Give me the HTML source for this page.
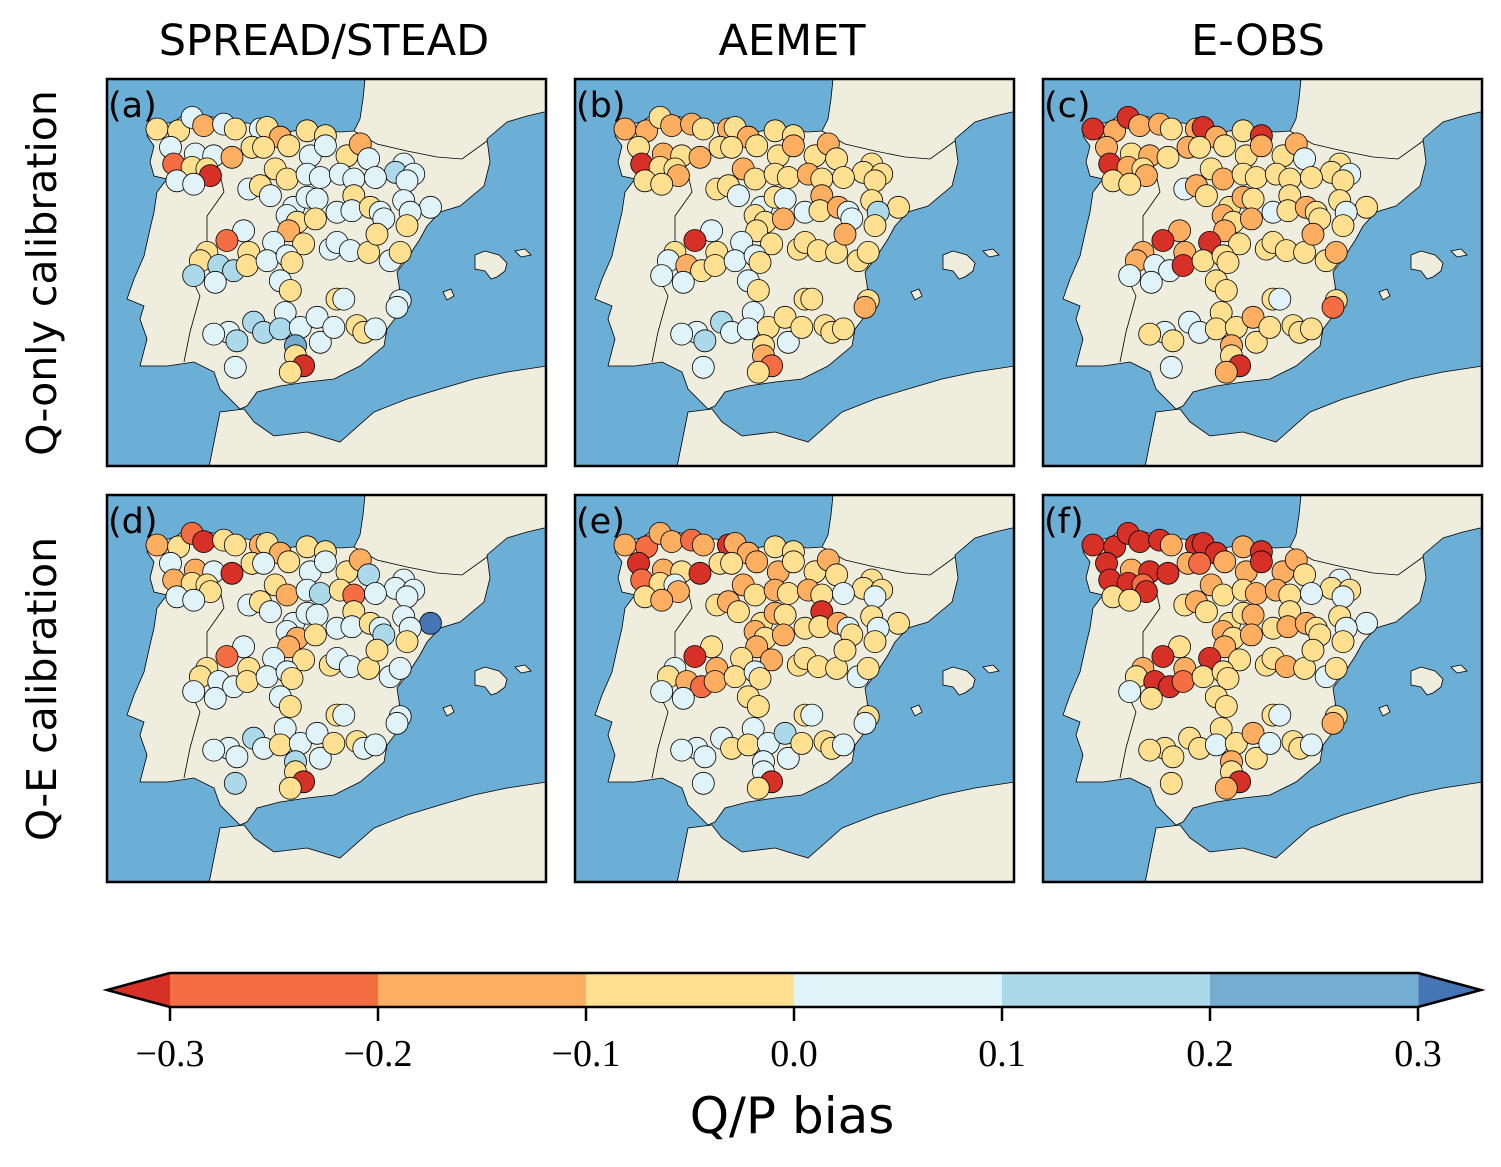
<!DOCTYPE html>
<html><head><meta charset="utf-8"><style>
html,body{margin:0;padding:0;background:#fff;}
svg{display:block;}
</style></head><body>
<svg id="fig" width="1501" height="1167" viewBox="0 0 1501 1167" xmlns="http://www.w3.org/2000/svg">
<defs>
<clipPath id="pclip"><rect x="0" y="0" width="439" height="387"/></clipPath>
</defs>
<g font-family="'DejaVu Sans','Liberation Sans',sans-serif" fill="#000">
<text x="324" y="55" font-size="43" text-anchor="middle">SPREAD/STEAD</text>
<text x="792" y="55" font-size="43" text-anchor="middle">AEMET</text>
<text x="1258" y="55" font-size="43" text-anchor="middle">E-OBS</text>
<text transform="translate(56,273) rotate(-90)" font-size="41" text-anchor="middle">Q-only calibration</text>
<text transform="translate(56,689) rotate(-90)" font-size="41" text-anchor="middle">Q-E calibration</text>
<text x="792" y="1133" font-size="50" text-anchor="middle">Q/P bias</text>
</g>
<g id="panels"></g>
<g id="cbar"></g>
</svg>
<script>
// station coordinates (lon, lat)
const stationLon = [-8.95,-8.15,-7.65,-7.22,-6.48,-6.05,-5.12,-4.87,-4.38,-3.39,-2.71,
-8.45,-7.53,-6.85,-6.17,-5.43,-5.0,-4.07,-8.33,-7.65,-7.1,-6.97,
-3.27,-2.71,-1.91,-1.42,-1.11,0.19,-0.12,0.56,
-8.21,-7.59,-5.55,-5.12,-4.75,-4.57,-4.13,-3.39,-2.9,-2.16,-1.66,-0.86,0.31,
-3.89,-3.39,-3.02,-1.66,0.19,1.18,
-4.13,-3.76,-3.08,-2.28,-1.73,-1.05,-0.68,-0.55,0.43,0.31,
-5.74,-6.36,-4.07,-3.52,-4.63,-2.53,-2.28,-1.79,-1.11,-0.8,-0.31,0.06,
-7.1,-7.34,-6.66,-6.11,-5.55,-5.61,-4.87,-4.13,-3.95,
-7.59,-6.79,-4.38,-4.01,-2.28,-2.03,0.06,-0.06,
-4.2,-5.37,-6.29,-6.85,-5.99,-5.0,-4.38,-3.64,-3.02,-2.9,-2.4,-1.54,-1.29,-0.86,
-3.82,-3.82,-3.52,-4.01,-6.05];
const stationLat = [43.51,43.46,43.82,43.6,43.64,43.51,43.51,43.55,43.29,43.46,43.33,
43.02,42.84,42.79,42.75,43.02,43.02,43.06,42.57,42.48,42.44,42.26,
42.79,43.06,42.79,43.11,42.71,42.57,42.35,42.3,
42.12,42.03,41.9,41.99,41.72,42.44,42.17,42.3,42.21,42.3,42.17,42.21,42.12,
41.41,41.68,41.63,41.72,41.59,41.41,
41.19,41.01,41.1,41.28,41.32,41.41,41.28,41.1,41.28,40.92,
40.78,40.52,40.78,40.43,40.47,40.29,40.47,40.25,40.2,40.69,39.98,40.2,
40.2,39.98,39.85,39.71,40.2,39.85,39.98,40.11,39.93,
39.58,39.4,39.44,39.18,38.95,38.95,38.91,38.73,
38.59,38.33,38.06,38.01,37.83,38.06,38.15,38.19,38.46,37.79,38.19,38.24,38.06,38.15,
37.7,37.43,37.16,36.99,37.12];
const biasA = [-.05,-.05,.05,-.15,.05,-.05,.05,-.05,-.15,-.05,-.05,
.05,.05,.05,-.15,-.05,-.05,-.05,-.25,-.05,-.05,-.35,
.05,.05,-.05,-.15,.05,.05,.15,.05,
.05,.05,.05,-.05,.05,-.05,-.05,.05,.05,.05,.05,.05,.05,
.05,.05,.05,-.05,.05,.05,
.05,-.05,-.05,.05,.05,-.05,.05,.05,.05,-.05,
.05,-.25,-.15,-.05,.05,.05,.05,.05,-.05,-.05,.05,-.05,
-.05,-.05,.15,.15,-.05,-.05,.05,.05,-.05,
.15,.05,.05,-.05,-.05,.05,.05,.05,
.05,.15,.05,.05,.15,.15,.15,.05,.05,.05,.05,-.05,-.05,.05,
.25,-.05,-.35,-.05,.05];
const biasB = [-.15,-.15,-.05,-.15,-.15,-.05,-.15,-.05,-.15,-.05,-.05,
-.05,-.15,-.05,-.15,-.05,-.05,-.05,-.35,-.05,-.05,-.15,
-.05,-.15,-.05,-.15,-.05,-.05,-.05,-.05,
-.05,-.05,-.05,-.05,.05,-.15,-.05,-.05,-.05,-.15,-.05,-.05,-.05,
.05,-.05,.05,-.15,-.05,-.05,
-.05,-.05,-.15,.05,-.05,-.15,.05,.05,.15,-.05,
.05,-.35,-.05,-.05,.05,-.05,-.05,-.05,-.05,-.15,-.05,-.05,
-.05,.05,-.15,-.05,-.05,-.05,.05,.05,-.05,
.05,.05,.05,-.05,-.05,-.05,-.05,-.15,
.05,.15,.05,.05,.15,.05,.05,-.05,-.05,.05,-.05,-.05,-.05,-.05,
-.05,-.15,-.25,-.05,.05];
const biasC = [-.35,-.15,-.35,-.15,-.15,-.05,-.15,-.35,-.15,-.05,-.35,
-.15,-.05,-.15,-.05,-.15,-.05,-.05,-.35,-.15,-.05,-.15,
-.05,-.15,-.05,-.15,.05,-.05,-.05,.05,
-.05,-.05,.05,-.15,-.05,-.05,-.15,-.05,-.05,-.05,-.05,-.05,-.05,
-.05,-.15,-.05,-.05,-.05,-.05,
-.15,-.05,-.15,.05,-.05,-.15,-.05,-.05,.05,-.05,
-.15,-.35,-.15,-.05,-.35,-.05,-.05,-.05,-.05,-.15,-.05,-.15,
-.15,-.15,.05,.05,-.15,-.35,-.05,-.05,-.05,
.05,.05,-.05,-.05,-.05,.05,-.05,-.25,
-.05,.05,.05,-.05,-.05,.05,-.05,-.05,-.15,-.05,-.05,-.05,-.05,-.05,
-.15,-.05,-.35,-.15,.05];
const biasD = [-.15,-.05,-.25,-.35,-.05,-.05,-.15,-.05,-.15,-.05,-.05,
.05,-.15,.05,-.35,-.05,.05,-.05,-.15,-.05,-.05,-.05,
.05,.05,-.05,-.15,.15,.05,.05,.05,
.05,.05,.05,-.05,.05,-.05,-.15,.05,.15,-.05,-.25,.05,.05,
.05,.05,.05,-.05,.05,.35,
.05,-.15,-.05,.05,.05,-.05,.05,.15,.05,-.05,
.05,-.25,-.15,-.05,.05,-.05,.05,.05,-.05,-.05,.05,.05,
-.05,-.05,.05,.05,-.05,-.05,.05,.05,-.05,
.05,.05,.05,-.05,-.05,.05,.05,.05,
.05,.15,.05,.05,.05,.05,-.05,.05,.05,.05,-.05,-.05,.05,.05,
.15,-.05,-.35,-.05,.15];
const biasE = [-.15,-.25,-.15,-.15,-.25,-.15,-.35,-.15,-.15,-.05,-.05,
-.35,-.15,-.05,-.35,-.05,-.05,-.15,-.25,-.05,.05,-.15,
-.15,-.05,-.05,-.15,-.05,-.05,-.05,-.05,
-.05,-.15,-.05,-.15,-.05,-.15,-.05,-.15,-.05,-.15,-.05,.05,.05,
-.05,-.15,-.05,-.35,-.05,-.05,
-.15,-.05,-.15,-.05,-.05,-.15,.05,-.05,.05,-.05,
-.05,-.35,-.15,-.15,-.05,-.05,-.05,-.05,-.05,-.05,.05,-.05,
.05,-.05,-.15,-.25,-.15,-.15,-.05,.05,-.05,
.05,.05,-.05,-.05,-.05,.05,-.05,.05,
.05,.05,.05,.05,.05,-.05,-.05,.05,.15,.05,-.05,-.05,-.05,.05,
.05,.05,-.35,-.05,.05];
const biasF = [-.35,-.35,-.35,-.35,-.35,-.15,-.35,-.35,-.35,-.15,-.35,
-.35,-.15,-.35,-.35,-.15,-.25,-.15,-.35,-.35,-.25,-.35,
-.15,-.35,-.15,-.15,-.05,.05,-.05,-.05,
-.05,-.05,-.05,-.15,-.05,-.15,-.05,-.05,-.15,-.15,-.05,.05,.05,
-.05,-.05,-.15,-.05,-.05,.05,
-.15,-.05,-.15,-.05,-.15,-.15,-.05,-.05,.05,-.05,
-.05,-.35,-.15,-.05,-.35,-.05,-.05,-.15,-.05,-.05,.05,-.05,
-.15,-.05,-.35,-.35,-.15,-.25,-.05,-.05,-.05,
.05,-.05,-.05,-.05,-.05,.05,-.05,-.15,
-.05,-.05,-.05,-.05,-.05,-.05,.05,-.05,-.15,-.05,.05,-.05,-.05,.05,
-.15,-.05,-.35,-.15,-.05];
const panelLabels = ['(a)','(b)','(c)','(d)','(e)','(f)'];
const cbarBounds = [-0.3,-0.2,-0.1,0.0,0.1,0.2,0.3];
const cbarTickLabels = ['\u22120.3','\u22120.2','\u22120.1','0.0','0.1','0.2','0.3'];
const binColors = ['#d73027','#f46d43','#fdae61','#fee090','#e0f3f8','#abd9e9','#74add1','#4575b4'];

const NS='http://www.w3.org/2000/svg';
function mk(tag, attrs, parent){const e=document.createElementNS(NS,tag);for(const k in attrs)e.setAttribute(k,attrs[k]);if(parent)parent.appendChild(e);return e;}
const PW=439, PH=387;
function xOf(lon){return (lon+10.8)*27;}
function yOf(lat){return (44.85-lat)*37.3;}
function colorOf(v){let i=0;while(i<cbarBounds.length && v>=cbarBounds[i])i++;return binColors[i];}

const land='M258,0 L256,20 L253,40 L247,52 L233,53 L200,50 L180,53 L160,47 L133,43 L100,37 L80,33 L67,43 L43,47 L40,57 L47,67 L43,83 L47,97 L60,100 L50,113 L47,133 L43,150 L37,177 L27,200 L20,220 L37,227 L33,240 L40,260 L33,287 L60,287 L87,283 L107,293 L113,310 L133,330 L140,327 L150,313 L173,307 L200,303 L227,300 L253,287 L277,267 L280,250 L293,233 L303,223 L293,213 L290,193 L300,180 L313,160 L320,147 L333,133 L353,127 L377,107 L383,83 L380,60 L400,43 L420,37 L437,33 L440,33 L440,0 Z';
const africa='M102,388 L113,333 L137,330 L147,343 L167,357 L200,353 L233,363 L267,333 L300,320 L333,310 L367,300 L400,293 L440,287 L440,388 Z';
const islands='M368,176 L378,172 L392,176 L400,184 L398,192 L390,198 L384,200 L378,192 L368,190 Z M408,172 L418,170 L424,176 L414,178 Z M336,213 L344,210 L347,217 L340,221 Z';
const borders='M113,95 L117,113 L100,137 L100,165 L80,190 L93,217 L83,253 L77,283 M247,52 L270,65 L300,72 L330,78 L355,80 L380,62';

const panelsG=document.getElementById('panels');
const biases=[biasA,biasB,biasC,biasD,biasE,biasF];
const offX=[107,575,1043], offY=[79,495];
for(let p=0;p<6;p++){
  const ox=offX[p%3], oy=offY[Math.floor(p/3)];
  const g=mk('g',{transform:`translate(${ox},${oy})`},panelsG);
  
  
  const c=mk('g',{'clip-path':'url(#pclip)'},g);
  mk('rect',{x:0,y:0,width:PW,height:PH,fill:'#6baed6'},c);
  const l=mk('path',{d:land,fill:'#efedde',stroke:'#000','stroke-width':0.8},c);
  
  
  mk('path',{d:africa,fill:'#efedde',stroke:'#000','stroke-width':0.8},c);
  mk('path',{d:islands,fill:'#efedde',stroke:'#000','stroke-width':0.8},c);
  mk('path',{d:borders,fill:'none',stroke:'#000','stroke-width':0.8},c);
  const vals=biases[p];
  for(let i=0;i<stationLon.length;i++){
    const dot=mk('circle',{cx:xOf(stationLon[i]).toFixed(1),cy:yOf(stationLat[i]).toFixed(1),r:11,fill:colorOf(vals[i]),stroke:'#000','stroke-width':0.8},c);
    
    
  }
  const t=mk('text',{x:1,y:38,'font-size':35,'font-family':"'DejaVu Sans','Liberation Sans',sans-serif"},g);
  t.textContent=panelLabels[p];
  
  
  mk('rect',{x:0,y:0,width:PW,height:PH,fill:'none',stroke:'#000','stroke-width':2.5},g);
}

// colorbar
const cb=document.getElementById('cbar');
const cx0=170, cx1=1418, cy0=973, cy1=1007;
function cbX(v){return cx0+(v-cbarBounds[0])/(cbarBounds[cbarBounds.length-1]-cbarBounds[0])*(cx1-cx0);}
mk('path',{d:`M${cx0},${cy0} L107,${(cy0+cy1)/2} L${cx0},${cy1} Z`,fill:binColors[0]},cb);
mk('path',{d:`M${cx1},${cy0} L1481,${(cy0+cy1)/2} L${cx1},${cy1} Z`,fill:binColors[7]},cb);
for(let i=0;i<cbarBounds.length-1;i++){
  const r=mk('rect',{x:cbX(cbarBounds[i]),y:cy0,width:cbX(cbarBounds[i+1])-cbX(cbarBounds[i])+0.5,height:cy1-cy0,fill:binColors[i+1]},cb);
  
  
}
mk('path',{d:`M${cx0},${cy0} L107,${(cy0+cy1)/2} L${cx0},${cy1} L${cx1},${cy1} L1481,${(cy0+cy1)/2} L${cx1},${cy0} Z`,fill:'none',stroke:'#000','stroke-width':2.5},cb);
for(let i=0;i<cbarBounds.length;i++){
  const x=cbX(cbarBounds[i]);
  mk('line',{x1:x,y1:cy1,x2:x,y2:cy1+14,stroke:'#000','stroke-width':2.5},cb);
  const t=mk('text',{x:x,y:1066,'font-size':38,'text-anchor':'middle','font-family':"'Liberation Serif','DejaVu Serif',serif"},cb);
  t.textContent=cbarTickLabels[i];
  
  
}
</script>
</body></html>
